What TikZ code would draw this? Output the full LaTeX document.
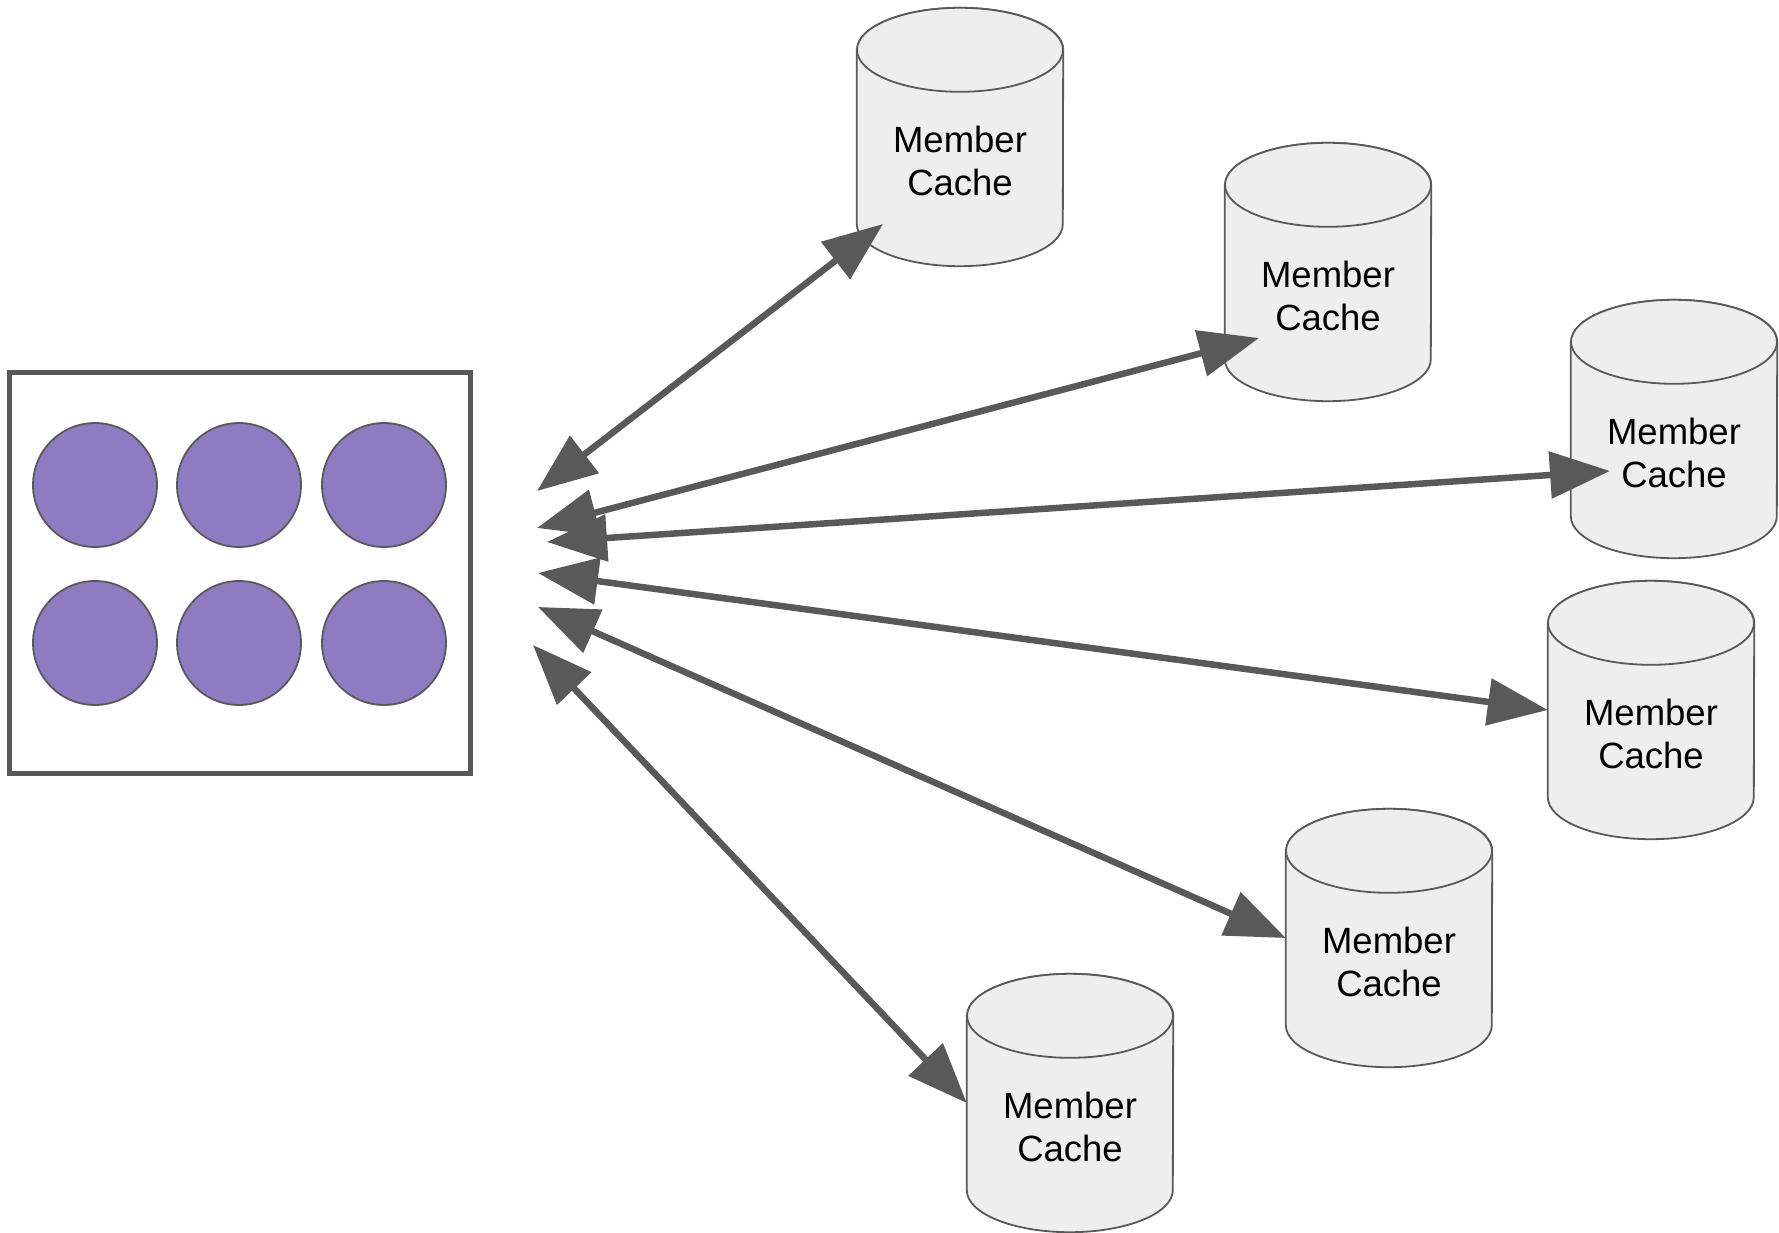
\documentclass[tikz,border=0pt]{standalone}
\usepackage{fontspec}
\setmainfont{Liberation Sans}
\usetikzlibrary{arrows.meta,calc}
\definecolor{edgegray}{HTML}{595959}
\definecolor{cylfill}{HTML}{EEEEEE}
\definecolor{dotfill}{HTML}{8E7CC3}
\tikzset{
  cylbox/.style={rectangle, inner sep=0pt, minimum width=206pt, minimum height=258pt},
  cylline/.style={draw=edgegray, line width=1.8pt, fill=cylfill},
  cyltext/.style={align=center, inner sep=0pt, font=\fontsize{36.5}{43.3}\selectfont, text=black},
  container/.style={draw=edgegray, line width=5pt, fill=white, rectangle, inner sep=0pt, minimum width=461pt, minimum height=401pt},
  dot/.style={circle, draw=edgegray, line width=1.8pt, fill=dotfill, inner sep=0pt, minimum size=124pt},
  link/.style={draw=edgegray, line width=6.5pt,
    {Triangle[length=60pt,width=46pt]}-{Triangle[length=60pt,width=46pt]}},
}
\newcommand\memcache[3]{%
  \node[cylbox] (#1) at (#2,#3) {};
  \path[cylline] ([yshift=-42pt]#1.north west) -- ([yshift=42pt]#1.south west)
    arc[start angle=180,end angle=360,x radius=103pt,y radius=42pt]
    -- ([yshift=-42pt]#1.north east)
    arc[start angle=0,end angle=180,x radius=103pt,y radius=42pt] -- cycle;
  \draw[cylline] ([yshift=-42pt]#1.north) ellipse[x radius=103pt,y radius=42pt];
  \node[cyltext] (#1t) at ([yshift=-24pt]#1.center) {Member\\Cache};
}
\begin{document}
\begin{tikzpicture}[x=1pt,y=-1pt]
\useasboundingbox (0,0) rectangle (1779,1233);
% container with six items
\node[container] (box) at (239.5,572.5) {};
\node[dot] (d1) at (95,485) {};
\node[dot] (d2) at (239,485) {};
\node[dot] (d3) at (384,485) {};
\node[dot] (d4) at (95,643) {};
\node[dot] (d5) at (239,643) {};
\node[dot] (d6) at (384,643) {};
% caches
\memcache{c1}{960}{137}
\memcache{c2}{1328}{272}
\memcache{c3}{1674}{429}
\memcache{c4}{1651}{710}
\memcache{c5}{1389}{938}
\memcache{c6}{1070}{1103}
% free ends near the container
\coordinate (l1) at (537,491);
\coordinate (l2) at (537,528);
\coordinate (l3) at (547,542);
\coordinate (l4) at (538,573);
\coordinate (l5) at (538,607);
\coordinate (l6) at (533,645);
% connectors
\draw[link] (l1) -- ($(c1.center)+(-77,87)$);
\draw[link] (l2) -- ($(c2.center)+(-69,66)$);
\draw[link] (l3) -- ($(c3.center)+(-64,42)$);
\draw[link] (l4) -- (c4.west);
\draw[link] (l5) -- (c5.west);
\draw[link] (l6) -- (c6.west);
\end{tikzpicture}
\end{document}
